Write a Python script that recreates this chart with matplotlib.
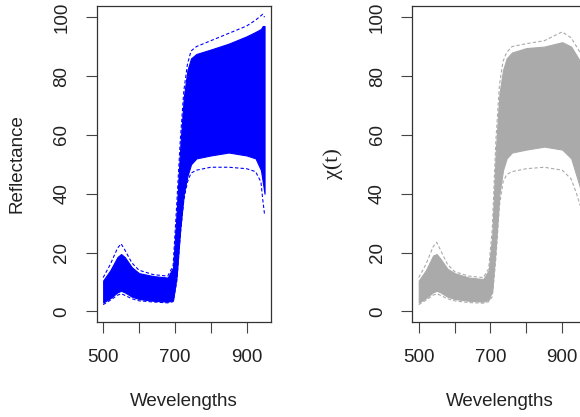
import numpy as np
import matplotlib.pyplot as plt

wl = [500, 520, 540, 550, 560, 580, 600, 640, 680, 695, 705, 715, 725, 735, 745, 760, 800, 850, 900, 925, 940, 945, 950]

# left panel: reflectance band (main body) and ragged outlier curves
blue_lo = [3.0, 4.5, 6.5, 7.0, 6.5, 5.0, 4.2, 3.6, 3.3, 3.8, 12, 28, 40, 46, 50, 52, 53, 54, 53, 52, 48, 44, 40]
blue_hi = [10.5, 14, 18.5, 19.5, 18.5, 15, 13, 12, 11.5, 15, 34, 56, 73, 82, 86, 87.5, 89, 91, 93.5, 95, 96, 97, 97]
blue_out_lo = [2.3, 3.8, 5.5, 6.0, 5.5, 4.3, 3.6, 3.2, 2.9, 3.3, 10, 26, 38, 44, 47, 48, 49, 49, 48.5, 47.5, 44, 38, 33]
blue_out_hi = [11.5, 16, 21.5, 23, 21, 16.5, 14, 12.5, 12, 15.5, 36, 58, 75, 84, 88.5, 90, 92, 94.5, 97, 99, 100.5, 101, 100]

# right panel: smoothed curves chi(t)
gray_lo = [3.0, 4.5, 6.5, 7.0, 6.5, 5.0, 4.2, 3.6, 3.3, 4.0, 7, 22, 40, 48, 52, 54, 55, 56, 55, 52, 46, 44, 42]
gray_hi = [10.5, 14, 19, 19.5, 18, 14.5, 13, 11.5, 11, 14, 26, 55, 74, 82, 86, 88, 89.5, 90, 91.5, 90, 87, 86, 85]
gray_out_lo = [2.3, 3.8, 5.5, 6.0, 5.5, 4.3, 3.6, 3.0, 2.8, 3.3, 5, 18, 36, 44, 46.5, 47.5, 48.5, 49, 48, 45, 40, 38, 36]
gray_out_hi = [11.5, 16, 22, 23.5, 21, 16, 13.5, 12, 11.5, 14.5, 28, 58, 77, 85, 88, 90, 91, 92, 95, 93, 90, 89, 88]

xticks = [500, 600, 700, 800, 900]
xticklabels = ['500', '', '700', '', '900']
yticks = [0, 20, 40, 60, 80, 100]

plt.rcParams['font.family'] = ['Liberation Sans', 'DejaVu Sans']
txt = '#222222'

fig = plt.figure(figsize=(5.8, 4.17), dpi=100)
ax1 = fig.add_axes([96.7 / 580, 1 - 321.7 / 417, 174.3 / 580, 315.7 / 417])
ax2 = fig.add_axes([412.3 / 580, 1 - 321.7 / 417, 174.3 / 580, 315.7 / 417])


def draw_panel(ax, lo, hi, out_lo, out_hi, col, ylab, yfam, ysize):
    ax.fill_between(wl, lo, hi, color=col, lw=0.8, edgecolor=col)
    ax.plot(wl, out_lo, color=col, lw=0.8, ls=(0, (3, 2)))
    ax.plot(wl, out_hi, color=col, lw=0.8, ls=(0, (3, 2)))
    ax.set_xlim(482, 968)
    ax.set_ylim(-3.5, 103.8)
    ax.set_xticks(xticks)
    ax.set_xticklabels(xticklabels)
    ax.set_yticks(yticks)
    ax.tick_params(axis='x', length=8, width=0.8, pad=12, labelsize=13.5,
                   color='#444444', labelcolor=txt)
    ax.tick_params(axis='y', length=8, width=0.8, pad=11, labelsize=13.5,
                   color='#444444', labelcolor=txt, labelrotation=90)
    for lab in ax.get_yticklabels():
        lab.set_verticalalignment('center')
    for s in ax.spines.values():
        s.set_color('#333333')
        s.set_linewidth(0.9)
    ax.set_xlabel('Wevelengths', fontsize=13.5, color=txt, va='center')
    ax.xaxis.set_label_coords(0.5, -0.254)
    ax.set_ylabel(ylab, fontsize=ysize, color=txt, family=yfam, va='center')
    ax.yaxis.set_label_coords(-0.457, 0.5)


draw_panel(ax1, blue_lo, blue_hi, blue_out_lo, blue_out_hi, '#0000FF',
           'Reflectance', ['Liberation Sans', 'DejaVu Sans'], 13.5)
draw_panel(ax2, gray_lo, gray_hi, gray_out_lo, gray_out_hi, '#AAAAAA',
           'χ(t)', ['Liberation Serif', 'DejaVu Serif'], 16)

fig.savefig('out.png', dpi=100)
